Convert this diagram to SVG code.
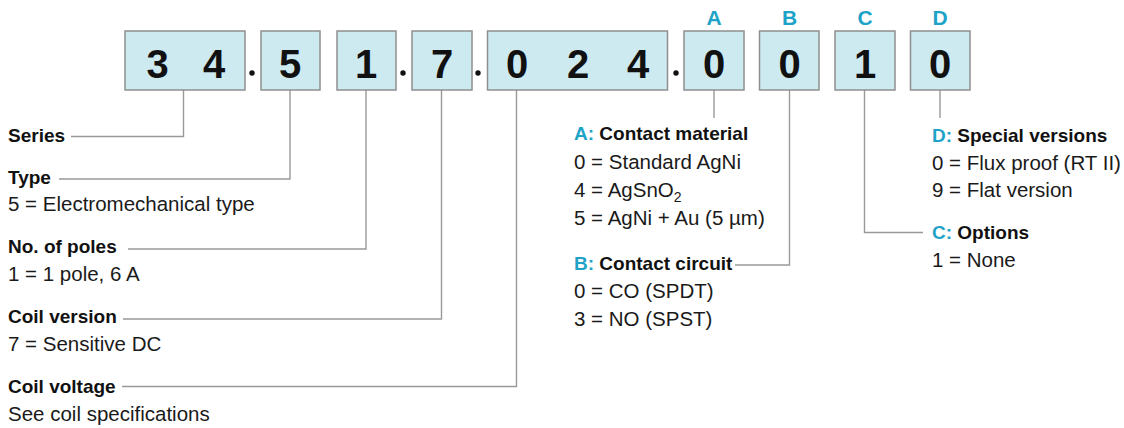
<svg xmlns="http://www.w3.org/2000/svg" width="1124" height="428" viewBox="0 0 1124 428">
<style>
.box{fill:#cdeaf1;stroke:#8f8f8f;stroke-width:1.5}
.dig{font-family:"Liberation Sans",Arial,sans-serif;font-weight:bold;font-size:40px;fill:#111;text-anchor:middle}
.key{font-family:"Liberation Sans",Arial,sans-serif;font-weight:bold;font-size:21px;fill:#1ea3c8;text-anchor:middle}
.h{font-family:"Liberation Sans",Arial,sans-serif;font-weight:bold;font-size:19px;fill:#111}
.c{fill:#1ea3c8}
.t{font-family:"Liberation Sans",Arial,sans-serif;font-size:20.5px;fill:#1a1a1a}
.ln{fill:none;stroke:#999;stroke-width:1.4}
.dot{fill:#111}
</style>
<rect width="1124" height="428" fill="#fff"/>
<g id="connectors">
<polyline class="ln" points="183.5,90 183.5,136.5 71,136.5"/>
<polyline class="ln" points="290,90 290,179 59,179"/>
<polyline class="ln" points="366,90 366,249 128,249"/>
<polyline class="ln" points="441.5,90 441.5,319 123,319"/>
<polyline class="ln" points="516.5,90 516.5,386.5 122,386.5"/>
<polyline class="ln" points="714,90 714,118"/>
<polyline class="ln" points="789.5,90 789.5,265 735,265"/>
<polyline class="ln" points="864.5,90 864.5,232.5 923,232.5"/>
<polyline class="ln" points="940,90 940,118"/>
</g>
<g id="dots">
<circle class="dot" cx="252" cy="73" r="2.7"/>
<circle class="dot" cx="403" cy="73" r="2.7"/>
<circle class="dot" cx="478" cy="73" r="2.7"/>
<circle class="dot" cx="676" cy="73" r="2.7"/>
</g>
<g id="box-series"><rect class="box" x="125" y="31" width="120" height="59"/><text class="dig" x="157.5" y="77.5">3</text><text class="dig" x="214" y="77.5">4</text></g>
<g id="box-type"><rect class="box" x="261" y="31" width="59" height="59"/><text class="dig" x="290" y="77.5">5</text></g>
<g id="box-poles"><rect class="box" x="337" y="31" width="59" height="59"/><text class="dig" x="366" y="77.5">1</text></g>
<g id="box-coilversion"><rect class="box" x="412" y="31" width="60" height="59"/><text class="dig" x="442" y="77.5">7</text></g>
<g id="box-coilvoltage"><rect class="box" x="487.5" y="31" width="180" height="59"/><text class="dig" x="517" y="77.5">0</text><text class="dig" x="578" y="77.5">2</text><text class="dig" x="638" y="77.5">4</text></g>
<g id="box-A"><rect class="box" x="684" y="31" width="60" height="59"/><text class="dig" x="714" y="77.5">0</text><text class="key" x="714" y="24.7">A</text></g>
<g id="box-B"><rect class="box" x="759.5" y="31" width="59.5" height="59"/><text class="dig" x="789.5" y="77.5">0</text><text class="key" x="789.5" y="24.7">B</text></g>
<g id="box-C"><rect class="box" x="835" y="31" width="60" height="59"/><text class="dig" x="865" y="77.5">1</text><text class="key" x="865" y="24.7">C</text></g>
<g id="box-D"><rect class="box" x="910.5" y="31" width="59.5" height="59"/><text class="dig" x="940" y="77.5">0</text><text class="key" x="940" y="24.7">D</text></g>
<g id="label-series"><text class="h" x="8" y="141.5">Series</text></g>
<g id="label-type"><text class="h" x="8" y="184">Type</text><text class="t" x="8" y="210.5">5 = Electromechanical type</text></g>
<g id="label-poles"><text class="h" x="8" y="252.5">No. of poles</text><text class="t" x="8" y="280.5">1 = 1 pole, 6 A</text></g>
<g id="label-coilversion"><text class="h" x="8" y="322.5">Coil version</text><text class="t" x="8" y="350.5">7 = Sensitive DC</text></g>
<g id="label-coilvoltage"><text class="h" x="8" y="392.5">Coil voltage</text><text class="t" x="8" y="420.5">See coil specifications</text></g>
<g id="label-A"><text class="h" x="574" y="140"><tspan class="c">A:</tspan> Contact material</text><text class="t" x="574" y="169">0 = Standard AgNi</text><text class="t" x="574" y="197.3">4 = AgSnO<tspan font-size="14" dy="5">2</tspan></text><text class="t" x="574" y="225">5 = AgNi + Au (5 µm)</text></g>
<g id="label-B"><text class="h" x="574" y="270"><tspan class="c">B:</tspan> Contact circuit</text><text class="t" x="574" y="298.3">0 = CO (SPDT)</text><text class="t" x="574" y="325.5">3 = NO (SPST)</text></g>
<g id="label-C"><text class="h" x="932" y="239"><tspan class="c">C:</tspan> Options</text><text class="t" x="932" y="266.7">1 = None</text></g>
<g id="label-D"><text class="h" x="932" y="141.7"><tspan class="c">D:</tspan> Special versions</text><text class="t" x="932" y="170">0 = Flux proof (RT II)</text><text class="t" x="932" y="197.3">9 = Flat version</text></g>
</svg>
